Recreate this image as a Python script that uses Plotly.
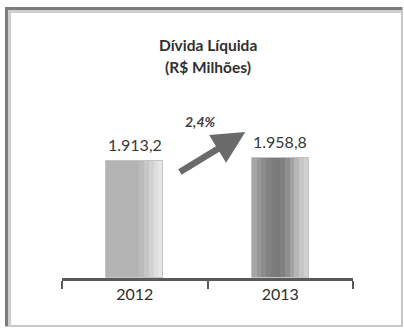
import plotly.graph_objects as go

# ---- data ----
categories = ["2012", "2013"]
values = [1913.2, 1958.8]
growth_label = "2,4%"
title_line1 = "Dívida Líquida"
title_line2 = "(R$ Milhões)"

# ---- style: horizontal gradient approximations (left -> right) ----
grad_2012 = ["#b4b4b4"] * 7 + ["#bcbcbc", "#c6c6c6", "#d2d2d2", "#dedede", "#e6e6e6"]
grad_2013 = ["#a6a6a6", "#989898", "#8c8c8c", "#828282", "#7c7c7c", "#7a7a7a",
             "#808080", "#8e8e8e", "#a2a2a2", "#b6b6b6", "#c6c6c6", "#d0d0d0"]
N = len(grad_2012)
BAR_W = 0.39

W, H = 404, 329
ML, MR, MT, MB = 62, 51, 126, 51
YMAX = 2484

fig = go.Figure()
for i in range(N):
    fig.add_trace(go.Bar(
        x=categories, y=values,
        width=BAR_W / N + 0.002,
        offset=-BAR_W / 2 + i * BAR_W / N,
        marker=dict(color=[grad_2012[i], grad_2013[i]], line=dict(width=0)),
        hoverinfo="skip", showlegend=False,
    ))
# outline
fig.add_trace(go.Bar(
    x=categories, y=values, width=BAR_W, offset=-BAR_W / 2,
    marker=dict(color="rgba(0,0,0,0)", line=dict(color="#c4c4c4", width=1)),
    showlegend=False,
))

fig.update_layout(
    width=W, height=H,
    margin=dict(l=ML, r=MR, t=MT, b=MB, pad=0),
    paper_bgcolor="white", plot_bgcolor="white",
    barmode="overlay", bargap=0,
    separators=",.",
    font=dict(family="Lato", color="#404040"),
    xaxis=dict(
        type="category", showgrid=False, zeroline=False,
        showline=True, linecolor="#5a5a5a", linewidth=2.5,
        ticks="outside", tickson="boundaries", ticklen=8, tickwidth=2,
        tickcolor="#5a5a5a",
        tickfont=dict(family="Lato", size=16, color="#2e2e2e"),
        range=[-0.5, 1.5],
    ),
    yaxis=dict(visible=False, range=[0, YMAX]),
)

ph = H - MT - MB
pw = W - ML - MR
def px_x(p):
    return (p - ML) / pw
def px_y(p):
    return (H - MB - p) / ph

# value labels
for i, v in enumerate(values):
    fig.add_annotation(
        x=i, y=v, xref="x", yref="y",
        text=f"{v:,.1f}".replace(",", "X").replace(".", ",").replace("X", "."),
        showarrow=False, yanchor="bottom", yshift=5,
        font=dict(family="Lato", size=16, color="#383838"),
    )

# growth arrow between the bars
fig.add_annotation(
    x=0.76, y=2386, xref="x", yref="y",
    ax=0.30, ay=1716, axref="x", ayref="y",
    text="", showarrow=True, arrowhead=2, arrowsize=1.0,
    arrowwidth=6.5, arrowcolor="#6a6a6a",
)
fig.add_annotation(
    x=px_x(200), y=px_y(122), xref="paper", yref="paper",
    text=f"<b><i>{growth_label}</i></b>", showarrow=False, yanchor="middle",
    font=dict(family="Lato", size=14, color="#404040"),
)

# title
fig.add_annotation(
    x=0.5, y=px_y(45), xref="paper", yref="paper",
    text=f"<b>{title_line1}</b>", showarrow=False, yanchor="middle",
    font=dict(family="Lato", size=15.5, color="#303030"),
)
fig.add_annotation(
    x=0.5, y=px_y(67), xref="paper", yref="paper",
    text=f"<b>{title_line2}</b>", showarrow=False, yanchor="middle",
    font=dict(family="Lato", size=15.5, color="#303030"),
)

# frame
fig.add_shape(type="rect", xref="paper", yref="paper",
              x0=px_x(6), x1=px_x(402), y0=px_y(326), y1=px_y(8),
              line=dict(color="#c8c8c8", width=2), layer="below")
fig.add_shape(type="line", xref="paper", yref="paper",
              x0=px_x(6.5), x1=px_x(6.5), y0=px_y(326), y1=px_y(7),
              line=dict(color="#7c7c7c", width=3))
fig.add_shape(type="line", xref="paper", yref="paper",
              x0=px_x(5), x1=px_x(402), y0=px_y(8.5), y1=px_y(8.5),
              line=dict(color="#7c7c7c", width=3))
fig.add_shape(type="line", xref="paper", yref="paper",
              x0=px_x(9.5), x1=px_x(9.5), y0=px_y(326), y1=px_y(10),
              line=dict(color="#cfcfcf", width=3))
fig.add_shape(type="line", xref="paper", yref="paper",
              x0=px_x(8), x1=px_x(402), y0=px_y(11.5), y1=px_y(11.5),
              line=dict(color="#cfcfcf", width=3))

fig.write_html("out.html")
